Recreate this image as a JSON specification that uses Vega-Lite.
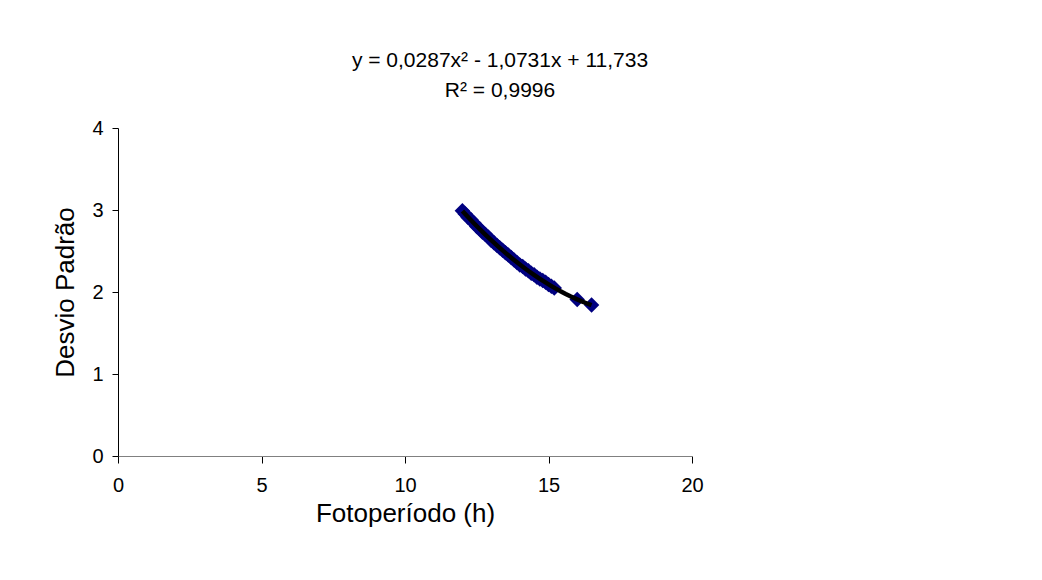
{
  "$schema": "https://vega.github.io/schema/vega-lite/v6.json",
  "autosize": {"type": "none"},
  "padding": {"left": 118, "top": 128, "right": 350, "bottom": 124},
  "width": 574,
  "height": 328,
  "background": "white",
  "config": {
    "font": "Liberation Sans",
    "view": {"stroke": null},
    "axis": {"grid": false, "labelFont": "Liberation Sans", "titleFont": "Liberation Sans", "labelColor": "black", "titleColor": "black", "tickColor": "black", "titleFontWeight": "normal"}
  },
  "title": {
    "text": ["y = 0,0287x² - 1,0731x + 11,733", "R² = 0,9996"],
    "fontSize": 21,
    "fontWeight": "normal",
    "font": "Liberation Sans",
    "color": "black",
    "anchor": "middle",
    "dx": 95,
    "lineHeight": 30,
    "offset": 17
  },
  "data": {"values": [
    {"x": 12.0, "y": 2.99}, {"x": 12.1, "y": 2.95}, {"x": 12.2, "y": 2.91}, {"x": 12.3, "y": 2.88},
    {"x": 12.4, "y": 2.84}, {"x": 12.5, "y": 2.80}, {"x": 12.6, "y": 2.77}, {"x": 12.7, "y": 2.73},
    {"x": 12.8, "y": 2.70}, {"x": 12.9, "y": 2.67}, {"x": 13.0, "y": 2.63}, {"x": 13.1, "y": 2.60},
    {"x": 13.2, "y": 2.57}, {"x": 13.3, "y": 2.54}, {"x": 13.4, "y": 2.51}, {"x": 13.5, "y": 2.48},
    {"x": 13.6, "y": 2.45}, {"x": 13.7, "y": 2.42}, {"x": 13.8, "y": 2.39}, {"x": 13.9, "y": 2.36},
    {"x": 14.0, "y": 2.33}, {"x": 14.1, "y": 2.31}, {"x": 14.2, "y": 2.28}, {"x": 14.3, "y": 2.26},
    {"x": 14.4, "y": 2.23}, {"x": 14.5, "y": 2.21}, {"x": 14.6, "y": 2.18}, {"x": 14.7, "y": 2.16},
    {"x": 14.8, "y": 2.14}, {"x": 14.9, "y": 2.12}, {"x": 15.0, "y": 2.09}, {"x": 15.1, "y": 2.07},
    {"x": 15.2, "y": 2.05}, {"x": 16.0, "y": 1.91}, {"x": 16.5, "y": 1.84}
  ]},
  "layer": [
    {
      "mark": {"type": "point", "shape": "diamond", "filled": true, "color": "#000080", "size": 240, "opacity": 1},
      "encoding": {
        "x": {"field": "x", "type": "quantitative", "scale": {"domain": [0, 20], "nice": false},
          "axis": {"values": [0, 5, 10, 15, 20], "format": "d", "title": "Fotoperíodo (h)", "labelFontSize": 20, "titleFontSize": 26, "tickSize": 7, "labelPadding": 12, "titlePadding": 5, "domainColor": "#808080", "labelFlush": false}},
        "y": {"field": "y", "type": "quantitative", "scale": {"domain": [0, 4], "nice": false},
          "axis": {"values": [0, 1, 2, 3, 4], "format": "d", "title": "Desvio Padrão", "labelFontSize": 20, "titleFontSize": 26, "tickSize": 6, "labelPadding": 9, "titlePadding": 13, "domainColor": "black", "labelFlush": false}}
      }
    },
    {
      "transform": [{"regression": "y", "on": "x", "method": "poly", "order": 2, "extent": [12, 16.5]}],
      "mark": {"type": "line", "color": "black", "strokeWidth": 4.5},
      "encoding": {
        "x": {"field": "x", "type": "quantitative"},
        "y": {"field": "y", "type": "quantitative"}
      }
    }
  ]
}
